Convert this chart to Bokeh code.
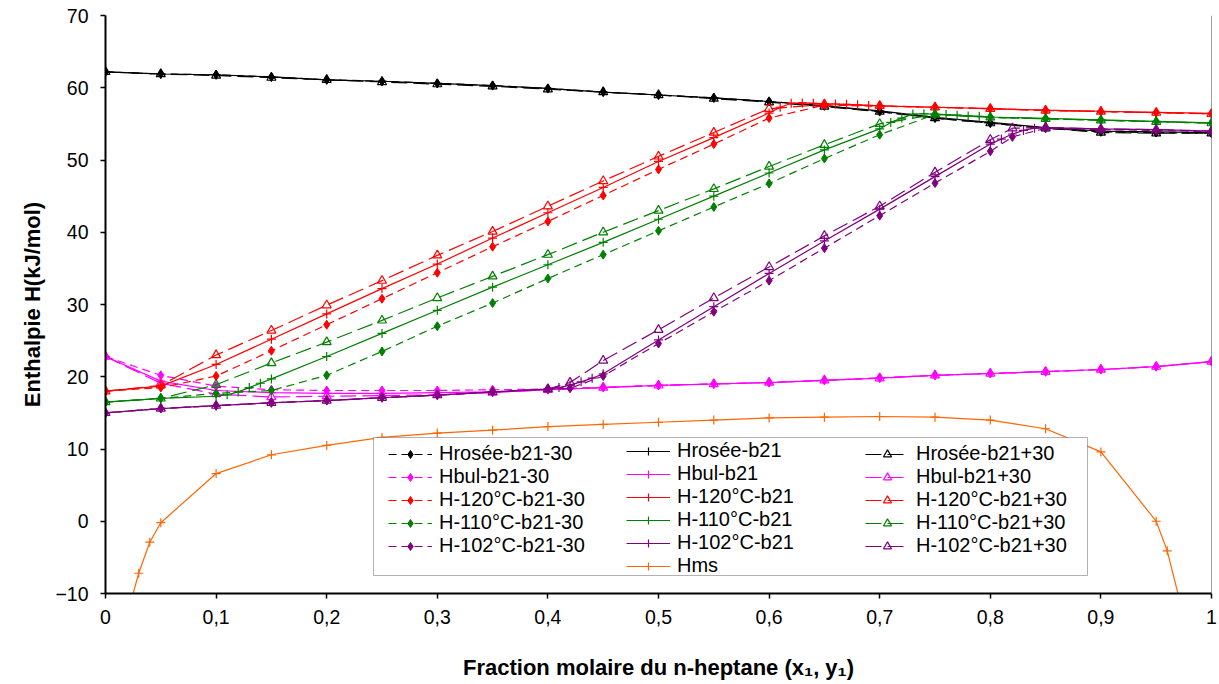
from bokeh.plotting import figure
from bokeh.models import (Range1d, FixedTicker, CustomJSTickFormatter, Legend, LegendItem,
                          Span, BoxAnnotation)
from bokeh.embed import file_html
from bokeh.resources import INLINE

# ---------------- data ----------------
X = [0.0, 0.05, 0.1, 0.15, 0.2, 0.25, 0.3, 0.35, 0.4, 0.45, 0.5,
     0.55, 0.6, 0.65, 0.7, 0.75, 0.8, 0.85, 0.9, 0.95, 1.0]

hrosee_m30 = [62.2, 61.9, 61.8, 61.5, 61.1, 60.9, 60.6, 60.3, 59.9, 59.4, 59.0,
              58.6, 58.1, 57.5, 56.7, 55.8, 55.1, 54.4, 53.9, 53.8, 53.7]
hrosee_b21 = [62.2, 61.9, 61.8, 61.5, 61.1, 60.9, 60.6, 60.3, 59.9, 59.4, 59.0,
              58.6, 58.1, 57.5, 56.8, 55.9, 55.2, 54.5, 54.0, 53.9, 53.8]
hrosee_p30 = [62.2, 61.9, 61.7, 61.4, 61.1, 60.8, 60.5, 60.2, 59.8, 59.4, 59.0,
              58.5, 58.0, 57.4, 56.7, 55.8, 55.1, 54.4, 53.8, 53.7, 53.7]

hbul_m30 = [22.8, 20.2, 18.7, 18.2, 18.1, 18.1, 18.1, 18.2, 18.3, 18.55, 18.8,
            19.0, 19.2, 19.5, 19.85, 20.2, 20.45, 20.7, 21.0, 21.4, 22.1]
hbul_b21 = [22.8, 19.4, 18.1, 17.8, 17.7, 17.7, 17.8, 17.9, 18.2, 18.5, 18.8,
            19.0, 19.2, 19.5, 19.8, 20.2, 20.45, 20.7, 21.0, 21.4, 22.1]
hbul_p30 = [22.8, 19.1, 17.6, 17.2, 17.3, 17.4, 17.5, 17.8, 18.2, 18.5, 18.8,
            19.0, 19.2, 19.5, 19.8, 20.2, 20.45, 20.7, 21.0, 21.4, 22.1]

h120_m30 = [18.0, 18.5, 20.1, 23.6, 27.2, 30.8, 34.4, 38.0, 41.5, 45.1, 48.7,
            52.2, 55.8, 57.6, 57.45, 57.3, 57.1, 56.85, 56.7, 56.55, 56.4]
x_h120_b21 = [0.0, 0.05, 0.1, 0.15, 0.2, 0.25, 0.3, 0.35, 0.4, 0.45, 0.5, 0.55, 0.6,
              0.61, 0.62, 0.63, 0.64, 0.65, 0.66, 0.67, 0.68, 0.69, 0.7,
              0.75, 0.8, 0.85, 0.9, 0.95, 1.0]
h120_b21 = [18.0, 18.7, 21.7, 25.2, 28.7, 32.2, 35.6, 39.2, 42.7, 46.2, 49.8, 53.1, 56.5,
            57.3, 57.85, 57.9, 57.85, 57.8, 57.75, 57.7, 57.65, 57.55, 57.5,
            57.3, 57.1, 56.9, 56.75, 56.6, 56.45]
h120_p30 = [18.0, 18.8, 23.0, 26.4, 29.9, 33.3, 36.8, 40.1, 43.6, 47.1, 50.5,
            53.8, 57.1, 57.7, 57.5, 57.3, 57.1, 56.85, 56.7, 56.55, 56.4]

h110_m30 = [16.5, 17.0, 17.7, 18.1, 20.2, 23.5, 27.0, 30.2, 33.6, 36.9, 40.2,
            43.5, 46.75, 50.2, 53.5, 56.3, 55.9, 55.7, 55.5, 55.3, 55.1]
x_h110_b21 = [0.0, 0.05, 0.1, 0.11, 0.12, 0.13, 0.14, 0.15, 0.2, 0.25, 0.3, 0.35, 0.4,
              0.45, 0.5, 0.55, 0.6, 0.65, 0.7, 0.71, 0.72, 0.73, 0.74, 0.75, 0.76,
              0.77, 0.78, 0.79, 0.8, 0.85, 0.9, 0.95, 1.0]
h110_b21 = [16.5, 17.0, 17.3, 17.5, 17.9, 18.5, 19.1, 19.7, 22.8, 26.0, 29.2, 32.4, 35.5,
            38.6, 41.8, 45.0, 48.2, 51.4, 54.3, 55.2, 55.8, 56.35, 56.4, 56.35, 56.3,
            56.2, 56.1, 56.05, 55.95, 55.75, 55.55, 55.35, 55.15]
h110_p30 = [16.5, 17.0, 18.9, 21.9, 24.8, 27.8, 30.9, 33.9, 36.9, 40.0, 43.0,
            46.0, 49.1, 52.1, 55.0, 56.3, 55.9, 55.7, 55.5, 55.3, 55.1]

x_h102_pm = [0.0, 0.05, 0.1, 0.15, 0.2, 0.25, 0.3, 0.35, 0.4, 0.42, 0.45, 0.5, 0.55,
             0.6, 0.65, 0.7, 0.75, 0.8, 0.82, 0.85, 0.9, 0.95, 1.0]
h102_m30 = [15.0, 15.6, 16.0, 16.4, 16.7, 17.1, 17.45, 17.9, 18.3, 18.4, 20.1, 24.6, 29.0,
            33.3, 37.8, 42.3, 46.8, 51.2, 53.2, 54.4, 54.2, 54.1, 53.9]
h102_p30 = [15.0, 15.6, 16.0, 16.4, 16.7, 17.1, 17.45, 17.9, 18.3, 19.2, 22.25, 26.5, 30.9,
            35.2, 39.5, 43.6, 48.3, 52.8, 54.4, 54.5, 54.3, 54.2, 54.0]
x_h102_b21 = [0.0, 0.05, 0.1, 0.15, 0.2, 0.25, 0.3, 0.35, 0.4, 0.41, 0.42, 0.43, 0.44,
              0.45, 0.5, 0.55, 0.6, 0.65, 0.7, 0.75, 0.8, 0.81, 0.82, 0.83, 0.84,
              0.85, 0.9, 0.95, 1.0]
h102_b21 = [15.0, 15.6, 16.0, 16.4, 16.7, 17.1, 17.45, 17.9, 18.3, 18.5, 18.85, 19.3, 19.8,
            20.4, 25.1, 29.7, 34.3, 38.8, 43.2, 47.7, 52.2, 52.9, 53.6, 54.1, 54.4,
            54.5, 54.3, 54.2, 54.0]

x_hms = [0.02, 0.03, 0.04, 0.05, 0.1, 0.15, 0.2, 0.25, 0.3, 0.35, 0.4, 0.45, 0.5,
         0.55, 0.6, 0.65, 0.7, 0.75, 0.8, 0.85, 0.9, 0.95, 0.96, 0.98]
hms = [-12.8, -7.2, -2.9, -0.2, 6.6, 9.2, 10.5, 11.6, 12.2, 12.6, 13.1, 13.4, 13.7,
       14.0, 14.3, 14.4, 14.5, 14.4, 14.0, 12.8, 9.6, 0.0, -4.1, -16.3]

x_ticks = [0, 0.1, 0.2, 0.3, 0.4, 0.5, 0.6, 0.7, 0.8, 0.9, 1.0]
y_ticks = [-10, 0, 10, 20, 30, 40, 50, 60, 70]

# ---------------- layout ----------------
FONT = "Liberation Sans"
FRAME_L, FRAME_T, FRAME_W, FRAME_H = 105, 15, 1106, 578
X_MIN, X_MAX, Y_MIN, Y_MAX = 0, 1, -10, 70
CANVAS_W, CANVAS_H = 1217, 684


def cx(px):
    return X_MIN + (px - FRAME_L) / FRAME_W * (X_MAX - X_MIN)


def cy(py):
    return Y_MAX - (py - FRAME_T) / FRAME_H * (Y_MAX - Y_MIN)


p = figure(width=CANVAS_W, height=CANVAS_H,
           x_range=Range1d(X_MIN, X_MAX), y_range=Range1d(Y_MIN, Y_MAX),
           output_backend="svg", toolbar_location=None,
           min_border_left=FRAME_L, min_border_right=CANVAS_W - FRAME_L - FRAME_W,
           min_border_top=FRAME_T, min_border_bottom=CANVAS_H - FRAME_T - FRAME_H)
p.outline_line_color = None
p.xgrid.visible = False
p.ygrid.visible = False
p.background_fill_color = "white"
p.border_fill_color = "white"

for ax in (p.xaxis, p.yaxis):
    ax.axis_line_color = "black"
    ax.axis_line_width = 2
    ax.major_tick_out = 5
    ax.major_tick_in = 0
    ax.major_tick_line_color = "black"
    ax.major_tick_line_width = 1.5
    ax.minor_tick_out = 0
    ax.minor_tick_in = 0
    ax.major_label_text_font = FONT
    ax.major_label_text_font_size = "19.5px"
    ax.major_label_text_color = "black"
    ax.axis_label_text_font = FONT
    ax.axis_label_text_font_size = "22px"
    ax.axis_label_text_font_style = "bold"
    ax.axis_label_text_color = "black"

p.xaxis.ticker = FixedTicker(ticks=x_ticks)
p.xaxis.formatter = CustomJSTickFormatter(
    code="return (Math.round(tick*10)/10).toString().replace('.', ',');")
p.xaxis.major_label_standoff = 11
p.xaxis.axis_label = "Fraction molaire du n-heptane (x₁, y₁)"
p.xaxis.axis_label_standoff = 28
p.yaxis.ticker = FixedTicker(ticks=y_ticks)
p.yaxis.major_label_standoff = 12
p.yaxis.axis_label = "Enthalpie H(kJ/mol)"
p.yaxis.axis_label_standoff = 7

STYLE = {
    "m30": dict(dash="8 5", marker="diamond", size=9, filled=True),
    "b21": dict(dash="solid", marker="cross", size=9, filled=False),
    "p30": dict(dash="16 6", marker="triangle", size=9, filled=False),
}


def draw(xs, ys, color, kind):
    st = STYLE[kind]
    rl = p.line(xs, ys, line_color=color, line_width=1.2, line_dash=st["dash"])
    if st["filled"]:
        rs = p.scatter(xs, ys, marker=st["marker"], size=st["size"],
                       line_color=color, fill_color=color)
    else:
        rs = p.scatter(xs, ys, marker=st["marker"], size=st["size"],
                       line_color=color, fill_color=None, line_width=1.2)
    return [rl, rs]


BLACK, MAGENTA, RED, GREEN, PURPLE, ORANGE = (
    "#000000", "#FF00FF", "#FF0000", "#008000", "#800080", "#FF6600")

col1, col2, col3 = [], [], []
series = [
    ("Hrosée", BLACK, (X, hrosee_m30), (X, hrosee_b21), (X, hrosee_p30)),
    ("Hbul", MAGENTA, (X, hbul_m30), (X, hbul_b21), (X, hbul_p30)),
    ("H-120°C", RED, (X, h120_m30), (x_h120_b21, h120_b21), (X, h120_p30)),
    ("H-110°C", GREEN, (X, h110_m30), (x_h110_b21, h110_b21), (X, h110_p30)),
    ("H-102°C", PURPLE, (x_h102_pm, h102_m30), (x_h102_b21, h102_b21), (x_h102_pm, h102_p30)),
]
for name, color, d_m30, d_b21, d_p30 in series:
    col1.append(LegendItem(label=f"{name}-b21-30", renderers=draw(*d_m30, color, "m30")))
    col2.append(LegendItem(label=f"{name}-b21", renderers=draw(*d_b21, color, "b21")))
    col3.append(LegendItem(label=f"{name}-b21+30", renderers=draw(*d_p30, color, "p30")))

r_hms_l = p.line(x_hms, hms, line_color=ORANGE, line_width=1.2)
r_hms_s = p.scatter(x_hms, hms, marker="cross", size=9, line_color=ORANGE, line_width=1.2)
col2.append(LegendItem(label="Hms", renderers=[r_hms_l, r_hms_s]))

blank = p.line([], [], line_alpha=0)
col1.append(LegendItem(label=" ", renderers=[blank]))
col3.append(LegendItem(label=" ", renderers=[blank]))

# right border of plot area
p.add_layout(Span(location=X_MAX, dimension="height", line_color="#404040", line_width=1))

# legend frame (page pixels -> data)
p.add_layout(BoxAnnotation(left=cx(373), right=cx(1087), top=cy(437), bottom=cy(575),
                           fill_color="white", fill_alpha=1.0,
                           line_color="black", line_width=1))

LEG_VY = 16
for items, vx in ((col1, 283), (col2, 521), (col3, 760)):
    lg = Legend(items=items, location=(vx, LEG_VY), orientation="vertical",
                border_line_color=None, background_fill_alpha=0,
                padding=0, spacing=-1, margin=0,
                glyph_width=44, glyph_height=20, label_standoff=7, label_height=20,
                label_text_font=FONT, label_text_font_size="20px",
                label_text_color="black")
    p.add_layout(lg)

open("out.html", "w").write(file_html(p, INLINE))
